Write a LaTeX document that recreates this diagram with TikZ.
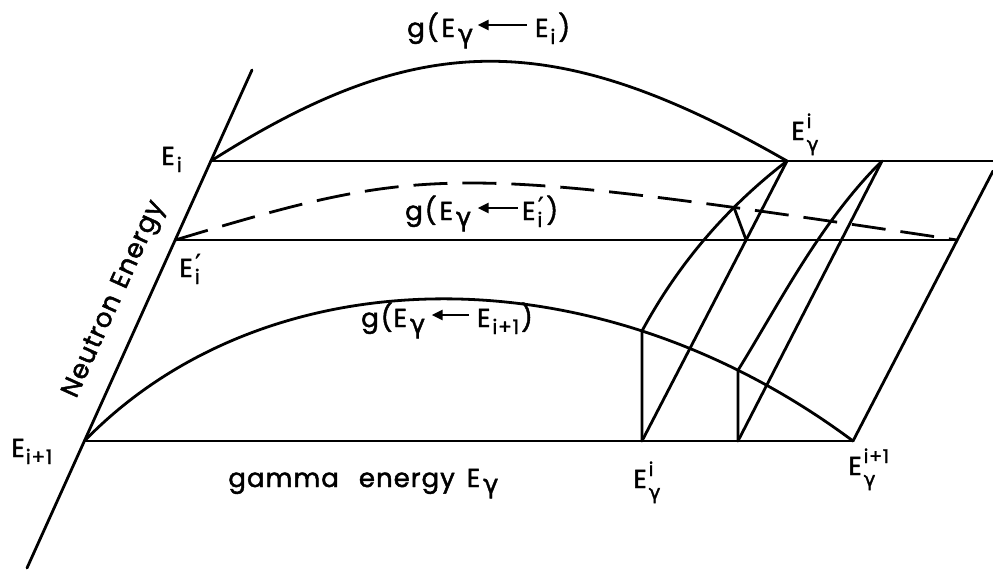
\documentclass[tikz,border=0pt]{standalone}
\usepackage{fontspec}
\setmainfont{Poppins}[LetterSpace=4,FakeBold=1.8]
\newfontfamily\gk{DejaVu Sans}[FakeBold=1.4]
\usetikzlibrary{arrows.meta,intersections,calc}
\newcommand\gm{{\gk γ}}
\newcommand\lgam{\raisebox{-6pt}{\gm}}
\newcommand\lo[1]{\raisebox{-7pt}{\fontsize{20}{20}\selectfont #1}}
\newcommand\ipr{\raisebox{-7pt}{\fontsize{20}{20}\selectfont\rlap{\hspace{0.5pt}\raisebox{12pt}{\gk\fontsize{25}{25}\selectfont ′}}i}\hspace{4pt}}
\newcommand\hilo[1]{\rlap{\raisebox{12pt}{\fontsize{19}{19}\selectfont #1}}\raisebox{-11pt}{\fontsize{20}{20}\selectfont\gm}}
\newcommand\larr[1]{\tikz[baseline=-12pt]\draw[line width=2.8pt,-{Triangle[length=11pt,width=10pt]}] (#1,0pt)--(0pt,0pt);}
\begin{document}
\begin{tikzpicture}[x=1pt,y=-1pt,line width=2.8pt,line cap=round,line join=round,
  lab/.style={inner sep=0pt,font=\fontsize{26}{30}\selectfont}]
\useasboundingbox (0,0) rectangle (993,571);
% axis and levels
\coordinate (At) at (252,70);
\coordinate (Ab) at (27,568);
\coordinate (Ei) at (210.9,161);
\coordinate (Eip) at (175.2,240);
\coordinate (Eb) at (84.4,441);
\coordinate (Rt) at (993,161);
\coordinate (Rm) at (957,240);
\coordinate (Rb) at (853,441);
\coordinate (Rr) at (993,171);
\coordinate (Tg1) at (787,161);
\coordinate (Tg2) at (882,161);
\coordinate (Bg1) at (642,441);
\coordinate (Bg2) at (738,441);
\coordinate (D2) at ($(Bg1)!0.718!(Tg1)$);
\draw (Ab) -- (At);
\draw (Ei) -- (Rt);
\draw (Eip) -- (Rm);
\draw (Eb) -- (Rb);
\draw (Rb) -- (Rr);
\draw (Bg1) -- (Tg1);
\draw (Bg2) -- (Tg2);
% curves
\draw (Ei) .. controls (420,28) and (555,28) .. (Tg1);
\draw[name path=dsh, dash pattern=on 34pt off 15pt, line cap=butt] (Eip) .. controls (428,164) and (450,164) .. (Rm);
\draw[name path=low] (Eb) .. controls (262,258) and (590,245) .. (Rb);
\path[name path=v1] (Bg1) -- ++(0,-200);
\path[name path=v2] (Bg2) -- ++(0,-200);
\path[name intersections={of=low and v1, by=C1}];
\path[name intersections={of=low and v2, by=C2}];
\draw (Bg1) -- (C1);
\draw (Bg2) -- (C2);
\draw[name path=ca] (C1) .. controls (679,262.5) and (727.4,206.9) .. (Tg1);
\draw (C2) .. controls (779,304) and (821,221) .. (Tg2);
\path[name intersections={of=ca and dsh, by=D1}];
\draw (D1) -- (D2);
% labels
\node[lab,anchor=base west] (lg1) at (407,37) {g\hspace{2pt}(\hspace{3pt}E\hspace{3pt}\lgam\hspace{3pt}\larr{49pt}\hspace{7pt}E\hspace{2pt}\lo{i}\hspace{3pt})};
\node[lab,anchor=base west] (lg2) at (405,220) {g\hspace{2pt}(\hspace{3pt}E\hspace{3pt}\lgam\hspace{5pt}\larr{40pt}\hspace{3pt}E\hspace{2pt}\ipr)};
\node[lab,anchor=base west] (lg3) at (361,327) {g\hspace{2pt}(\hspace{1pt}E\hspace{3pt}\lgam\hspace{5pt}\larr{37pt}\hspace{7pt}E\hspace{2pt}\lo{i+1}\hspace{2pt})};
\node[lab,anchor=base west] (lEi) at (160,165) {E\hspace{2pt}\lo{i}};
\node[lab,anchor=base west] (lEip) at (178,277) {E\hspace{2pt}\ipr};
\node[lab,anchor=base west] (lEb) at (10,457) {E\hspace{1pt}\lo{i+1}};
\node[lab,anchor=base west] (lTg) at (790,140) {E\hspace{2pt}\hilo{i}};
\node[lab,anchor=base west] (lBg1) at (632,488) {E\hspace{2pt}\hilo{i}};
\node[lab,anchor=base west] (lBg2) at (847,475) {E\hspace{2pt}\hilo{i+1}};
\node[lab,anchor=base west] (lgam) at (227,487) {gamma\hspace{20pt}energy\hspace{12pt}E\hspace{3pt}\lgam};
\node[lab,anchor=base,rotate=65.7] (lne) at (120,302) {Neutron\hspace{10pt}Energy};
\end{tikzpicture}
\end{document}
